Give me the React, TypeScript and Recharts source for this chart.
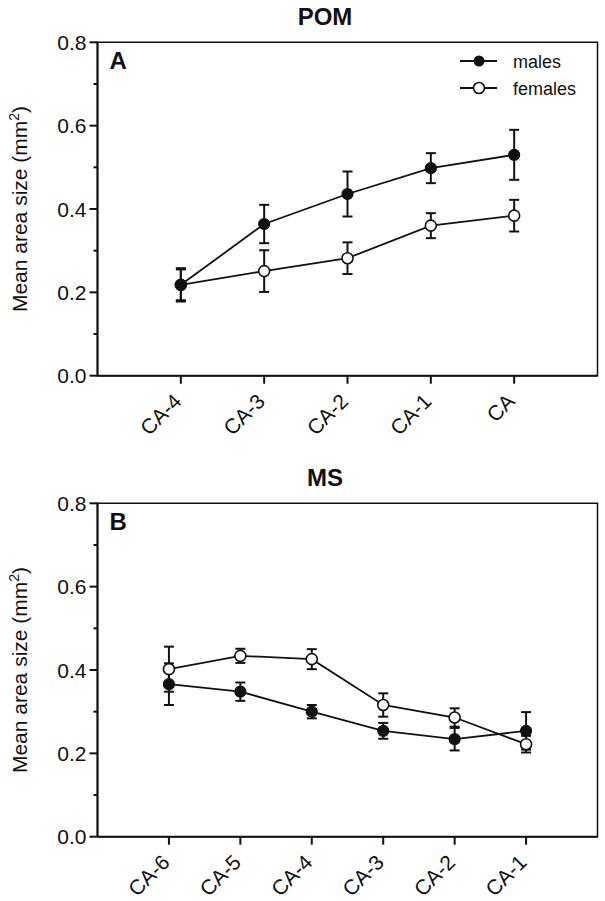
import { LineChart, Line, XAxis, YAxis, ErrorBar, ReferenceArea } from 'recharts'

const pomStages = ['CA-4', 'CA-3', 'CA-2', 'CA-1', 'CA']
const pomMales = [0.218, 0.364, 0.436, 0.498, 0.53]
const pomMalesErr = [0.037, 0.046, 0.054, 0.036, 0.06]
const pomFemales = [0.218, 0.251, 0.282, 0.36, 0.384]
const pomFemalesErr = [0.04, 0.05, 0.038, 0.03, 0.038]

const msStages = ['CA-6', 'CA-5', 'CA-4', 'CA-3', 'CA-2', 'CA-1']
const msMales = [0.366, 0.348, 0.3, 0.254, 0.234, 0.254]
const msMalesErr = [0.05, 0.022, 0.016, 0.019, 0.027, 0.045]
const msFemales = [0.402, 0.434, 0.426, 0.316, 0.286, 0.222]
const msFemalesErr = [0.054, 0.017, 0.024, 0.028, 0.022, 0.02]

const yTicks = [0, 0.1, 0.2, 0.3, 0.4, 0.5, 0.6, 0.7, 0.8]

const FONT = '"Liberation Sans", Arial, sans-serif'
const INK = '#111'

function buildRows(males: number[], mErr: number[], females: number[], fErr: number[]) {
  return males.map((m, i) => ({ x: i, males: m, mErr: mErr[i], females: females[i], fErr: fErr[i] }))
}

function YTick({ x, y, payload }: any) {
  const v = payload.value
  const major = Math.round(v * 10) % 2 === 0
  return (
    <g>
      <line x1={x - (major ? 8 : 4)} x2={x} y1={y} y2={y} stroke={INK} strokeWidth={2} />
      {major && (
        <text x={x - 11} y={y + 7.5} textAnchor="end" fontSize={21} fontFamily={FONT} fill={INK}>
          {v.toFixed(1)}
        </text>
      )}
    </g>
  )
}

function makeXTick(labels: string[]) {
  return function XTick({ x, y, payload }: any) {
    const ax = x + 2
    const ay = y + 27
    return (
      <g>
        <line x1={x} x2={x} y1={y} y2={y + 8} stroke={INK} strokeWidth={2} />
        <text
          x={ax}
          y={ay}
          textAnchor="end"
          fontSize={21}
          fontFamily={FONT}
          fill={INK}
          transform={`rotate(-45, ${ax}, ${ay})`}
        >
          {labels[payload.value]}
        </text>
      </g>
    )
  }
}

interface PanelProps {
  top: number
  height: number
  plotTop: number
  bottomSpace: number
  title: string
  letter: string
  stages: string[]
  rows: any[]
  showLegend: boolean
}

function Panel({ top, height, plotTop, bottomSpace, title, letter, stages, rows, showLegend }: PanelProps) {
  const n = stages.length
  const plotBottom = height - bottomSpace
  const midY = (plotTop + plotBottom) / 2
  return (
    <div style={{ position: 'absolute', left: 0, top, width: 605, height }}>
      <LineChart
        width={605}
        height={height}
        data={rows}
        margin={{ top: plotTop, right: 7.5, bottom: 4, left: 17.5 }}
      >
        <XAxis
          type="number"
          dataKey="x"
          domain={[-1, n]}
          ticks={stages.map((_, i) => i)}
          interval={0}
          height={bottomSpace - 4}
          tickSize={0}
          tickMargin={0}
          tickLine={false}
          axisLine={{ stroke: INK, strokeWidth: 2 }}
          tick={makeXTick(stages)}
        />
        <YAxis
          type="number"
          domain={[0, 0.8]}
          ticks={yTicks}
          interval={0}
          width={80}
          tickSize={0}
          tickMargin={0}
          tickLine={false}
          axisLine={{ stroke: INK, strokeWidth: 2 }}
          tick={YTick}
        />
        <ReferenceArea x1={-1} x2={n} y1={0} y2={0.8} fill="none" stroke={INK} strokeWidth={1.5} />
        <Line
          dataKey="females"
          stroke={INK}
          strokeWidth={1.8}
          dot={{ r: 5.5, fill: '#fff', stroke: INK, strokeWidth: 1.6 }}
          activeDot={false}
          isAnimationActive={false}
        >
          <ErrorBar dataKey="fErr" direction="y" width={5} stroke={INK} strokeWidth={2} />
        </Line>
        <Line
          dataKey="males"
          stroke={INK}
          strokeWidth={1.8}
          dot={{ r: 5.5, fill: INK, stroke: INK, strokeWidth: 1.2 }}
          activeDot={false}
          isAnimationActive={false}
        >
          <ErrorBar dataKey="mErr" direction="y" width={5} stroke={INK} strokeWidth={2} />
        </Line>
      </LineChart>
      <svg
        width={605}
        height={height}
        style={{ position: 'absolute', left: 0, top: 0, pointerEvents: 'none' }}
        fontFamily={FONT}
      >
        <text x={325} y={plotTop - 17.5} textAnchor="middle" fontSize={24} fontWeight="bold" fill={INK}>
          {title}
        </text>
        <text x={109.5} y={plotTop + 26.5} fontSize={24} fontWeight="bold" fill={INK}>
          {letter}
        </text>
        <text
          x={27}
          y={midY}
          textAnchor="middle"
          fontSize={21}
          fill={INK}
          transform={`rotate(-90, 27, ${midY})`}
        >
          Mean area size (mm<tspan fontSize={14} dy={-8}>2</tspan>
          <tspan dy={8}>)</tspan>
        </text>
        {showLegend && (
          <g>
            <line x1={460} x2={497} y1={61} y2={61} stroke={INK} strokeWidth={1.8} />
            <circle cx={479} cy={61} r={5.5} fill={INK} />
            <text x={513} y={67.5} fontSize={18} fill={INK}>males</text>
            <line x1={460} x2={497} y1={88} y2={88} stroke={INK} strokeWidth={1.8} />
            <circle cx={479} cy={88} r={5.5} fill="#fff" stroke={INK} strokeWidth={1.6} />
            <text x={513} y={94.5} fontSize={18} fill={INK}>females</text>
          </g>
        )}
      </svg>
    </div>
  )
}

export default function App() {
  return (
    <div style={{ position: 'absolute', left: 0, top: 0, width: 605, height: 901, background: '#fff' }}>
      <Panel
        top={0}
        height={450}
        plotTop={42.3}
        bottomSpace={74.3}
        title="POM"
        letter="A"
        stages={pomStages}
        rows={buildRows(pomMales, pomMalesErr, pomFemales, pomFemalesErr)}
        showLegend
      />
      <Panel
        top={450}
        height={451}
        plotTop={53.3}
        bottomSpace={64.3}
        title="MS"
        letter="B"
        stages={msStages}
        rows={buildRows(msMales, msMalesErr, msFemales, msFemalesErr)}
        showLegend={false}
      />
    </div>
  )
}
